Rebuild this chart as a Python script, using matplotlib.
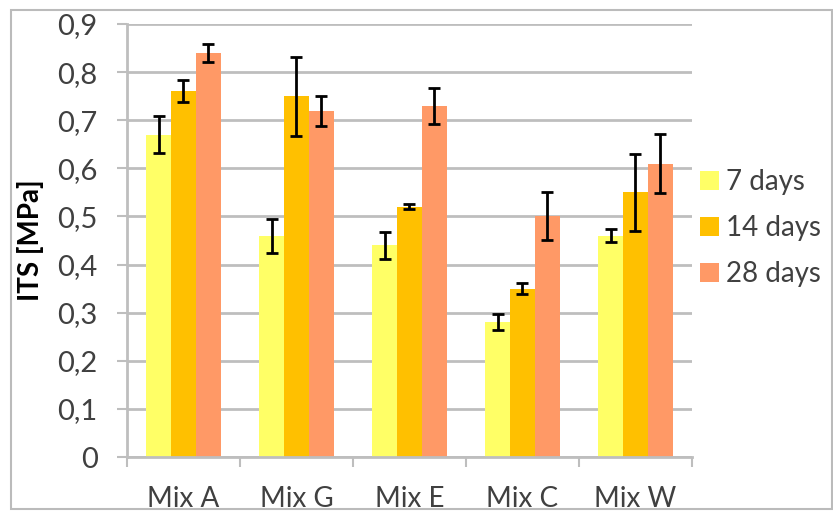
import numpy as np
import matplotlib.pyplot as plt
from matplotlib.patches import Rectangle
from matplotlib.ticker import FixedLocator

plt.rcParams['font.family'] = ['Lato', 'DejaVu Sans']

mixes = ['Mix A', 'Mix G', 'Mix E', 'Mix C', 'Mix W']
series = ['7 days', '14 days', '28 days']
its_7 = [0.67, 0.46, 0.44, 0.28, 0.46]
its_14 = [0.76, 0.75, 0.52, 0.35, 0.55]
its_28 = [0.84, 0.72, 0.73, 0.50, 0.61]
err_7 = [0.038, 0.035, 0.028, 0.017, 0.013]
err_14 = [0.023, 0.082, 0.005, 0.011, 0.080]
err_28 = [0.019, 0.031, 0.038, 0.050, 0.062]
yticks = [0, 0.1, 0.2, 0.3, 0.4, 0.5, 0.6, 0.7, 0.8, 0.9]

colors = ['#FFFF66', '#FFC000', '#FF9966']
grid_col = '#BEBEBE'
txt_col = '#404040'

fig = plt.figure(figsize=(8.33, 5.11), dpi=100)
ax = fig.add_axes([127/833, 54/511, 565/833, 433/511])

# outer chart border
fig.patches.append(Rectangle((11/833, 2/511), 821/833, 499/511, transform=fig.transFigure,
                             fill=False, edgecolor='#BBBBBB', linewidth=1.5))

x = np.arange(len(mixes))
w = 0.22
for i, (vals, errs) in enumerate([(its_7, err_7), (its_14, err_14), (its_28, err_28)]):
    ax.bar(x + (i - 1) * w, vals, w, color=colors[i], label=series[i], zorder=2,
           yerr=errs, error_kw=dict(ecolor='black', elinewidth=2, capsize=4.5, capthick=2, zorder=3))

ax.set_xlim(-0.5, 4.5)
ax.set_ylim(0, 0.9)
ax.set_yticks(yticks)
ax.set_yticklabels([('%.1f' % v).replace('.', ',') if v else '0' for v in yticks])
ax.yaxis.grid(True, color=grid_col, linewidth=2, zorder=0)
ax.set_axisbelow(True)

ax.set_xticks(x)
ax.set_xticklabels(mixes)
ax.xaxis.set_minor_locator(FixedLocator(np.arange(-0.5, 5, 1)))
ax.tick_params(axis='x', which='major', length=0, pad=21, labelsize=20, labelcolor=txt_col)
ax.tick_params(axis='x', which='minor', length=7, width=1.5, color=grid_col, direction='out')
ax.tick_params(axis='y', length=7, width=1.5, color=grid_col, pad=14, labelsize=21, labelcolor=txt_col)

for s in ['top', 'right']:
    ax.spines[s].set_visible(False)
for s in ['left', 'bottom']:
    ax.spines[s].set_color(grid_col)
    ax.spines[s].set_linewidth(2)

ax.set_ylabel('ITS [MPa]', fontsize=20, fontweight='bold', labelpad=10)

ax.legend(loc='upper left', bbox_to_anchor=((700 - 127) / 565, (457 - 169) / 433), frameon=False,
          fontsize=20, handlelength=0.7, handleheight=0.7, handletextpad=0.25,
          labelspacing=0.72, borderaxespad=0, borderpad=0, labelcolor=txt_col)

fig.savefig('out.png', dpi=100)
